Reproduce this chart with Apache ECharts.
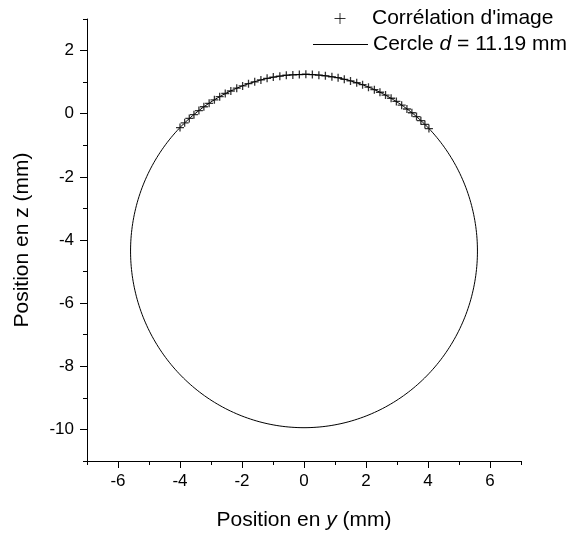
<!DOCTYPE html>
<html>
<head>
<meta charset="utf-8">
<script src="https://cdn.jsdelivr.net/npm/echarts@6/dist/echarts.min.js"></script>
<style>
html,body{margin:0;padding:0;background:#fff;}
#chart{width:569px;height:534px;}
</style>
</head>
<body>
<div id="chart"></div>
<script>
// Measured points (image correlation): y position and z position, mm
var posY = [-4.00, -3.85, -3.70, -3.55, -3.39, -3.23, -3.06, -2.89, -2.72, -2.54,
            -2.36, -2.17, -1.98, -1.79, -1.59, -1.39, -1.19, -0.99, -0.78, -0.57,
            -0.36, -0.15, 0.06, 0.27, 0.48, 0.69, 0.90, 1.10, 1.30, 1.50,
            1.70, 1.89, 2.08, 2.27, 2.45, 2.63, 2.81, 2.98, 3.15, 3.32,
            3.48, 3.63, 3.77, 3.90, 4.03];
var posZ = [-0.44, -0.29, -0.15, -0.03, 0.10, 0.22, 0.33, 0.44, 0.54, 0.64,
            0.72, 0.81, 0.88, 0.95, 1.01, 1.07, 1.12, 1.16, 1.19, 1.22,
            1.23, 1.24, 1.25, 1.24, 1.22, 1.20, 1.17, 1.14, 1.09, 1.04,
            0.98, 0.92, 0.84, 0.76, 0.68, 0.59, 0.49, 0.39, 0.27, 0.15,
            0.03, -0.09, -0.22, -0.34, -0.47];

// Fitted circle: diameter and centre (mm)
var circleDiameter = 11.19;
var circleCenterY = 0.0;
var circleCenterZ = -4.35;

// Axis ticks
var xMajorTicks = [-6, -4, -2, 0, 2, 4, 6];
var yMajorTicks = [-10, -8, -6, -4, -2, 0, 2];

var seriesNames = ["Corrélation d'image", "Cercle d = 11.19 mm"];

var scatterData = posY.map(function (v, i) { return [v, posZ[i]]; });
var circleData = [];
var r = circleDiameter / 2;
for (var k = 0; k <= 360; k++) {
  var a = k * Math.PI / 180;
  circleData.push([circleCenterY + r * Math.sin(a), circleCenterZ + r * Math.cos(a)]);
}

var FONT = '"Liberation Sans", Arial, sans-serif';
var chart = echarts.init(document.getElementById('chart'), null, {renderer: 'canvas'});
var plusPath = 'path://M5,0L5,10M0,5L10,5';

var axisLineStyle = {color: '#000', width: 1};

chart.setOption({
  animation: false,
  backgroundColor: '#fff',
  grid: {left: 87, right: 48, top: 19, bottom: 73, containLabel: false, outerBoundsMode: 'none'},
  legend: [
    {
      data: [{name: seriesNames[0], icon: plusPath}],
      left: 334, top: 8, orient: 'vertical', padding: 0,
      itemWidth: 54, itemHeight: 11,
      itemStyle: {color: 'transparent', borderColor: '#000', borderWidth: 1},
      textStyle: {fontFamily: FONT, fontSize: 21, color: '#000'}
    },
    {
      data: [{name: seriesNames[1], icon: 'rect'}],
      left: 313, top: 34, orient: 'vertical', padding: 0,
      itemWidth: 55, itemHeight: 1,
      itemStyle: {color: '#000', borderWidth: 0},
      formatter: function () { return '{a|Cercle }{i|d}{a| = 11.19 mm}'; },
      textStyle: {
        fontFamily: FONT, fontSize: 21, color: '#000',
        rich: {
          a: {fontFamily: FONT, fontSize: 21, color: '#000'},
          i: {fontFamily: FONT, fontSize: 21, color: '#000', fontStyle: 'italic'}
        }
      }
    }
  ],
  xAxis: [
    {
      type: 'value', min: -7, max: 7, position: 'bottom',
      splitLine: {show: false},
      axisLine: {show: true, onZero: false, lineStyle: axisLineStyle},
      axisTick: {show: true, length: 7, customValues: xMajorTicks, lineStyle: axisLineStyle},
      axisLabel: {customValues: xMajorTicks, fontFamily: FONT, fontSize: 17, color: '#000', margin: 12},
      name: 'Position en {i|y} (mm)', nameLocation: 'middle', nameGap: 49,
      nameTextStyle: {
        fontFamily: FONT, fontSize: 21, color: '#000',
        rich: {
          i: {fontFamily: FONT, fontSize: 21, fontStyle: 'italic', color: '#000'}
        }
      }
    },
    {
      type: 'value', min: -7, max: 7, interval: 1, position: 'bottom', offset: 0,
      splitLine: {show: false},
      axisLine: {show: false, onZero: false},
      axisTick: {show: true, length: 4, lineStyle: axisLineStyle},
      axisLabel: {show: false}
    }
  ],
  yAxis: [
    {
      type: 'value', min: -11, max: 3, position: 'left',
      splitLine: {show: false},
      axisLine: {show: true, onZero: false, lineStyle: axisLineStyle},
      axisTick: {show: true, length: 7, customValues: yMajorTicks, lineStyle: axisLineStyle},
      axisLabel: {customValues: yMajorTicks, fontFamily: FONT, fontSize: 17, color: '#000', margin: 13},
      name: 'Position en z (mm)', nameLocation: 'middle', nameGap: 54, nameRotate: 90,
      nameTextStyle: {fontFamily: FONT, fontSize: 21, color: '#000'}
    },
    {
      type: 'value', min: -11, max: 3, interval: 1, position: 'left', offset: 0,
      splitLine: {show: false},
      axisLine: {show: false, onZero: false},
      axisTick: {show: true, length: 4, lineStyle: axisLineStyle},
      axisLabel: {show: false}
    }
  ],
  series: [
    {
      name: seriesNames[0], type: 'scatter', xAxisIndex: 0, yAxisIndex: 0,
      data: scatterData, symbol: plusPath, symbolSize: 8,
      itemStyle: {color: 'transparent', borderColor: '#000', borderWidth: 1.3},
      z: 3
    },
    {
      name: seriesNames[1], type: 'line', xAxisIndex: 0, yAxisIndex: 0,
      data: circleData, symbol: 'none', showSymbol: false, smooth: false,
      lineStyle: {color: '#000', width: 1}, itemStyle: {color: '#000'},
      z: 2
    }
  ]
});
</script>
</body>
</html>
